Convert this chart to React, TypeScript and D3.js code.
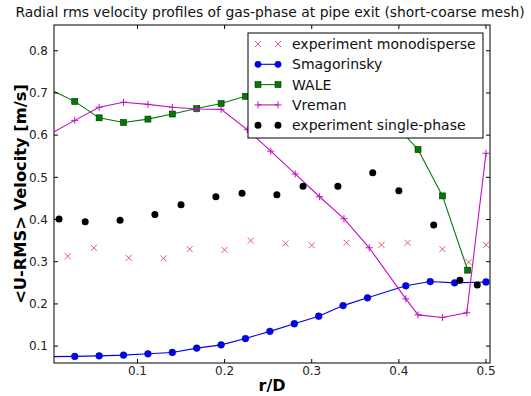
import * as d3 from "d3";

// r/D positions and rms velocities
const monoX = [0.02, 0.05, 0.09, 0.13, 0.16, 0.2, 0.23, 0.27, 0.3, 0.34, 0.38, 0.41, 0.45, 0.48, 0.5];
const monoY = [0.313, 0.333, 0.309, 0.308, 0.33, 0.328, 0.35, 0.343, 0.339, 0.345, 0.34, 0.345, 0.33, 0.299, 0.34];

const smagX = [0, 0.028, 0.056, 0.084, 0.112, 0.14, 0.168, 0.196, 0.224, 0.252, 0.28, 0.308, 0.336, 0.364, 0.408, 0.436, 0.464, 0.5];
const smagY = [0.075, 0.0756, 0.077, 0.0787, 0.0818, 0.085, 0.0953, 0.103, 0.118, 0.135, 0.153, 0.171, 0.196, 0.2145, 0.243, 0.253, 0.25, 0.252];

const waleX = [0, 0.028, 0.056, 0.084, 0.112, 0.14, 0.168, 0.196, 0.224, 0.252, 0.28, 0.308, 0.336, 0.364, 0.392, 0.422, 0.45, 0.479];
const waleY = [0.708, 0.68, 0.641, 0.63, 0.638, 0.65, 0.663, 0.675, 0.692, 0.7, 0.705, 0.7, 0.69, 0.67, 0.633, 0.566, 0.456, 0.28];

const vremX = [0, 0.028, 0.056, 0.084, 0.112, 0.14, 0.168, 0.196, 0.226, 0.253, 0.281, 0.309, 0.337, 0.366, 0.408, 0.422, 0.45, 0.478, 0.5];
const vremY = [0.603, 0.635, 0.666, 0.678, 0.673, 0.666, 0.662, 0.661, 0.613, 0.562, 0.508, 0.454, 0.402, 0.333, 0.212, 0.174, 0.168, 0.179, 0.557];

const singleX = [0.01, 0.04, 0.08, 0.12, 0.15, 0.19, 0.22, 0.26, 0.29, 0.33, 0.37, 0.4, 0.44, 0.47, 0.49];
const singleY = [0.401, 0.395, 0.398, 0.412, 0.435, 0.454, 0.462, 0.459, 0.479, 0.479, 0.511, 0.468, 0.387, 0.256, 0.245];

const xTicks = [0.1, 0.2, 0.3, 0.4, 0.5];
const yTicks = [0.1, 0.2, 0.3, 0.4, 0.5, 0.6, 0.7, 0.8];

const legendLabels = ["experiment monodisperse", "Smagorinsky", "WALE", "Vreman", "experiment single-phase"];

const W = 531;
const H = 396;
const m = { left: 54, top: 25, right: 490, bottom: 363 };
const font = "'DejaVu Sans', sans-serif";

const RED = "#e8595c";
const BLUE = "#0000ee";
const GREEN = "#007a00";
const MAGENTA = "#c010c0";

const zip = (xs: number[], ys: number[]) => xs.map((x, i) => [x, ys[i]] as [number, number]);

const Cross = ({ x, y, s = 3 }: { x: number; y: number; s?: number }) => (
  <path d={`M${x - s},${y - s}L${x + s},${y + s}M${x - s},${y + s}L${x + s},${y - s}`} stroke={RED} strokeWidth={1} fill="none" />
);
const Plus = ({ x, y, s = 3.5 }: { x: number; y: number; s?: number }) => (
  <path d={`M${x - s},${y}L${x + s},${y}M${x},${y - s}L${x},${y + s}`} stroke={MAGENTA} strokeWidth={1} fill="none" />
);
const Square = ({ x, y, s = 3 }: { x: number; y: number; s?: number }) => (
  <rect x={x - s} y={y - s} width={2 * s} height={2 * s} fill={GREEN} stroke="#003300" strokeWidth={0.6} />
);

export default function App() {
  const x = d3.scaleLinear().domain([0.0042, 0.5046]).range([m.left, m.right]);
  const y = d3.scaleLinear().domain([0.06, 0.861]).range([m.bottom, m.top]);
  const line = d3
    .line<[number, number]>()
    .x((d) => x(d[0]))
    .y((d) => y(d[1]));

  const mono = zip(monoX, monoY);
  const smag = zip(smagX, smagY);
  const wale = zip(waleX, waleY);
  const vrem = zip(vremX, vremY);
  const single = zip(singleX, singleY);

  // legend layout
  const lg = { x0: 248, y0: 33, x1: 483, y1: 138 };
  const rowY = (i: number) => 44 + i * 20.3;
  const mA = 258;
  const mB = 278;
  const tX = 292;

  return (
    <svg width={W} height={H} style={{ position: "absolute", left: 0, top: 0, background: "#fff" }} fontFamily={font}>
      <defs>
        <clipPath id="plotClip">
          <rect x={m.left} y={m.top} width={m.right - m.left} height={m.bottom - m.top} />
        </clipPath>
      </defs>

      <text x={270} y={17} textAnchor="middle" fontSize={13.9} fill="#111">
        Radial rms velocity profiles of gas-phase at pipe exit (short-coarse mesh)
      </text>

      <g clipPath="url(#plotClip)">
        {mono.map((d, i) => (
          <Cross key={"m" + i} x={x(d[0])} y={y(d[1])} />
        ))}
        <path d={line(smag) ?? ""} fill="none" stroke={BLUE} strokeWidth={1.1} />
        {smag.map((d, i) => (
          <circle key={"s" + i} cx={x(d[0])} cy={y(d[1])} r={3.4} fill={BLUE} stroke="#000088" strokeWidth={0.5} />
        ))}
        <path d={line(wale) ?? ""} fill="none" stroke={GREEN} strokeWidth={1.1} />
        {wale.map((d, i) => (
          <Square key={"w" + i} x={x(d[0])} y={y(d[1])} />
        ))}
        <path d={line(vrem) ?? ""} fill="none" stroke={MAGENTA} strokeWidth={1.1} />
        {vrem.map((d, i) => (
          <Plus key={"v" + i} x={x(d[0])} y={y(d[1])} />
        ))}
        {single.map((d, i) => (
          <circle key={"k" + i} cx={x(d[0])} cy={y(d[1])} r={3.5} fill="#000" />
        ))}
      </g>

      {/* frame and ticks */}
      <rect x={m.left} y={m.top} width={m.right - m.left} height={m.bottom - m.top} fill="none" stroke="#000" strokeWidth={1} />
      {xTicks.map((t) => (
        <g key={"xt" + t}>
          <line x1={x(t)} x2={x(t)} y1={m.bottom} y2={m.bottom - 4} stroke="#000" />
          <line x1={x(t)} x2={x(t)} y1={m.top} y2={m.top + 4} stroke="#000" />
          <text x={x(t)} y={375} textAnchor="middle" fontSize={12} fill="#222">
            {d3.format(".1f")(t)}
          </text>
        </g>
      ))}
      {yTicks.map((t) => (
        <g key={"yt" + t}>
          <line x1={m.left} x2={m.left + 4} y1={y(t)} y2={y(t)} stroke="#000" />
          <line x1={m.right} x2={m.right - 4} y1={y(t)} y2={y(t)} stroke="#000" />
          <text x={48} y={y(t) + 4.3} textAnchor="end" fontSize={12} fill="#222">
            {d3.format(".1f")(t)}
          </text>
        </g>
      ))}

      <text x={272} y={391} textAnchor="middle" fontSize={16} fontWeight="bold">
        r/D
      </text>
      <text transform={`translate(26,${(m.top + m.bottom) / 2}) rotate(-90)`} textAnchor="middle" fontSize={16.3} fontWeight="bold">
        {"<U-RMS> Velocity [m/s]"}
      </text>

      {/* legend */}
      <rect x={lg.x0} y={lg.y0} width={lg.x1 - lg.x0} height={lg.y1 - lg.y0} fill="#fff" stroke="#000" strokeWidth={1} />
      <Cross x={mA} y={rowY(0)} />
      <Cross x={mB} y={rowY(0)} />
      <line x1={mA} x2={mB} y1={rowY(1)} y2={rowY(1)} stroke={BLUE} strokeWidth={1.1} />
      <circle cx={mA} cy={rowY(1)} r={3.4} fill={BLUE} />
      <circle cx={mB} cy={rowY(1)} r={3.4} fill={BLUE} />
      <line x1={mA} x2={mB} y1={rowY(2)} y2={rowY(2)} stroke={GREEN} strokeWidth={1.1} />
      <Square x={mA} y={rowY(2)} />
      <Square x={mB} y={rowY(2)} />
      <line x1={mA} x2={mB} y1={rowY(3)} y2={rowY(3)} stroke={MAGENTA} strokeWidth={1.1} />
      <Plus x={mA} y={rowY(3)} />
      <Plus x={mB} y={rowY(3)} />
      <circle cx={mA} cy={rowY(4)} r={3.5} fill="#000" />
      <circle cx={mB} cy={rowY(4)} r={3.5} fill="#000" />
      {legendLabels.map((l, i) => (
        <text key={l} x={tX} y={rowY(i) + 5} fontSize={14} fill="#111">
          {l}
        </text>
      ))}
    </svg>
  );
}
